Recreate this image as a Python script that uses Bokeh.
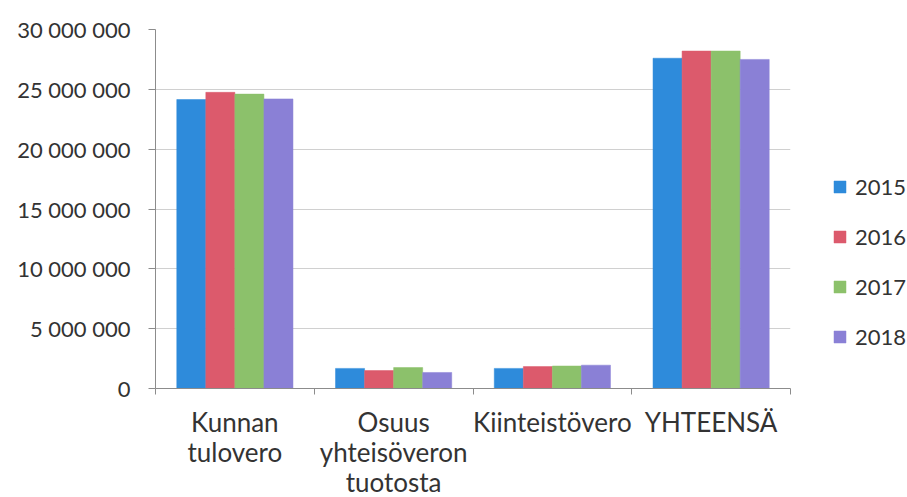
from bokeh.plotting import figure
from bokeh.models import (ColumnDataSource, Range1d, FixedTicker, CustomJSTickFormatter,
                          Legend, LegendItem)
from bokeh.transform import dodge
from bokeh.embed import file_html
from bokeh.resources import INLINE

categories = ["Kunnan\ntulovero", "Osuus\nyhteisöveron\ntuotosta", "Kiinteistövero", "YHTEENSÄ"]
years = ["2015", "2016", "2017", "2018"]
v2015 = [24150000, 1680000, 1680000, 27600000]
v2016 = [24750000, 1500000, 1830000, 28200000]
v2017 = [24600000, 1750000, 1880000, 28200000]
v2018 = [24200000, 1340000, 1950000, 27500000]
y_ticks = [0, 5000000, 10000000, 15000000, 20000000, 25000000, 30000000]
colors = ["#2E8BDB", "#DC5A6C", "#8CC16B", "#8A80D6"]

xi = list(range(len(categories)))
source = ColumnDataSource(data=dict(xi=xi, v2015=v2015, v2016=v2016, v2017=v2017, v2018=v2018))

p = figure(frame_width=635, frame_height=359, output_backend="svg", toolbar_location=None,
           x_range=Range1d(-0.5, len(categories) - 0.5), y_range=Range1d(0, 30000000),
           min_border_left=155, min_border_top=29, min_border_bottom=108, min_border_right=117)
p.outline_line_color = None
p.background_fill_color = "white"

bw = 0.183
renderers = []
cols = ["v2015", "v2016", "v2017", "v2018"]
for j, (col, c) in enumerate(zip(cols, colors)):
    r = p.vbar(x=dodge("xi", (j - 1.5) * bw, range=p.x_range), top=col, width=bw,
               source=source, fill_color=c, line_color=c, line_width=0.5)
    renderers.append(r)

# y axis
p.yaxis.ticker = FixedTicker(ticks=y_ticks, minor_ticks=[])
p.yaxis.formatter = CustomJSTickFormatter(code="""
return Math.round(tick).toString().replace(/\\B(?=(\\d{3})+(?!\\d))/g, ' ');
""")
p.yaxis.major_label_text_font = "Lato"
p.yaxis.major_label_text_font_size = "22px"
p.yaxis.major_label_text_color = "#333333"
p.yaxis.axis_line_color = "#8c8c8c"
p.yaxis.major_tick_line_color = "#8c8c8c"
p.yaxis.major_tick_out = 7
p.yaxis.major_tick_in = 0
p.yaxis.major_label_standoff = 18

# x axis
p.xaxis.ticker = FixedTicker(ticks=xi, minor_ticks=[i - 0.5 for i in range(len(categories) + 1)])
p.xaxis.major_label_overrides = {i: c for i, c in enumerate(categories)}
p.xaxis.major_label_text_font = "Lato"
p.xaxis.major_label_text_font_size = "26px"
p.xaxis.major_label_text_line_height = 0.95
p.xaxis.major_label_text_color = "#333333"
p.xaxis.major_tick_out = 0
p.xaxis.major_tick_in = 0
p.xaxis.minor_tick_out = 6
p.xaxis.minor_tick_in = 0
p.xaxis.minor_tick_line_color = "#8c8c8c"
p.xaxis.axis_line_color = "#8c8c8c"
p.xaxis.major_label_standoff = 11

p.xgrid.grid_line_color = None
p.ygrid.grid_line_color = "#d0d0d0"

legend = Legend(items=[LegendItem(label=y, renderers=[r]) for y, r in zip(years, renderers)],
                location=(42, 38))
legend.label_text_font = "Lato"
legend.label_text_font_size = "22px"
legend.label_text_color = "#333333"
legend.glyph_width = 15
legend.glyph_height = 15
legend.label_height = 25
legend.spacing = 23
legend.padding = 0
legend.margin = 0
legend.border_line_color = None
legend.background_fill_alpha = 0
legend.label_standoff = 8
p.add_layout(legend, "right")

open("out.html", "w").write(file_html(p, INLINE))
